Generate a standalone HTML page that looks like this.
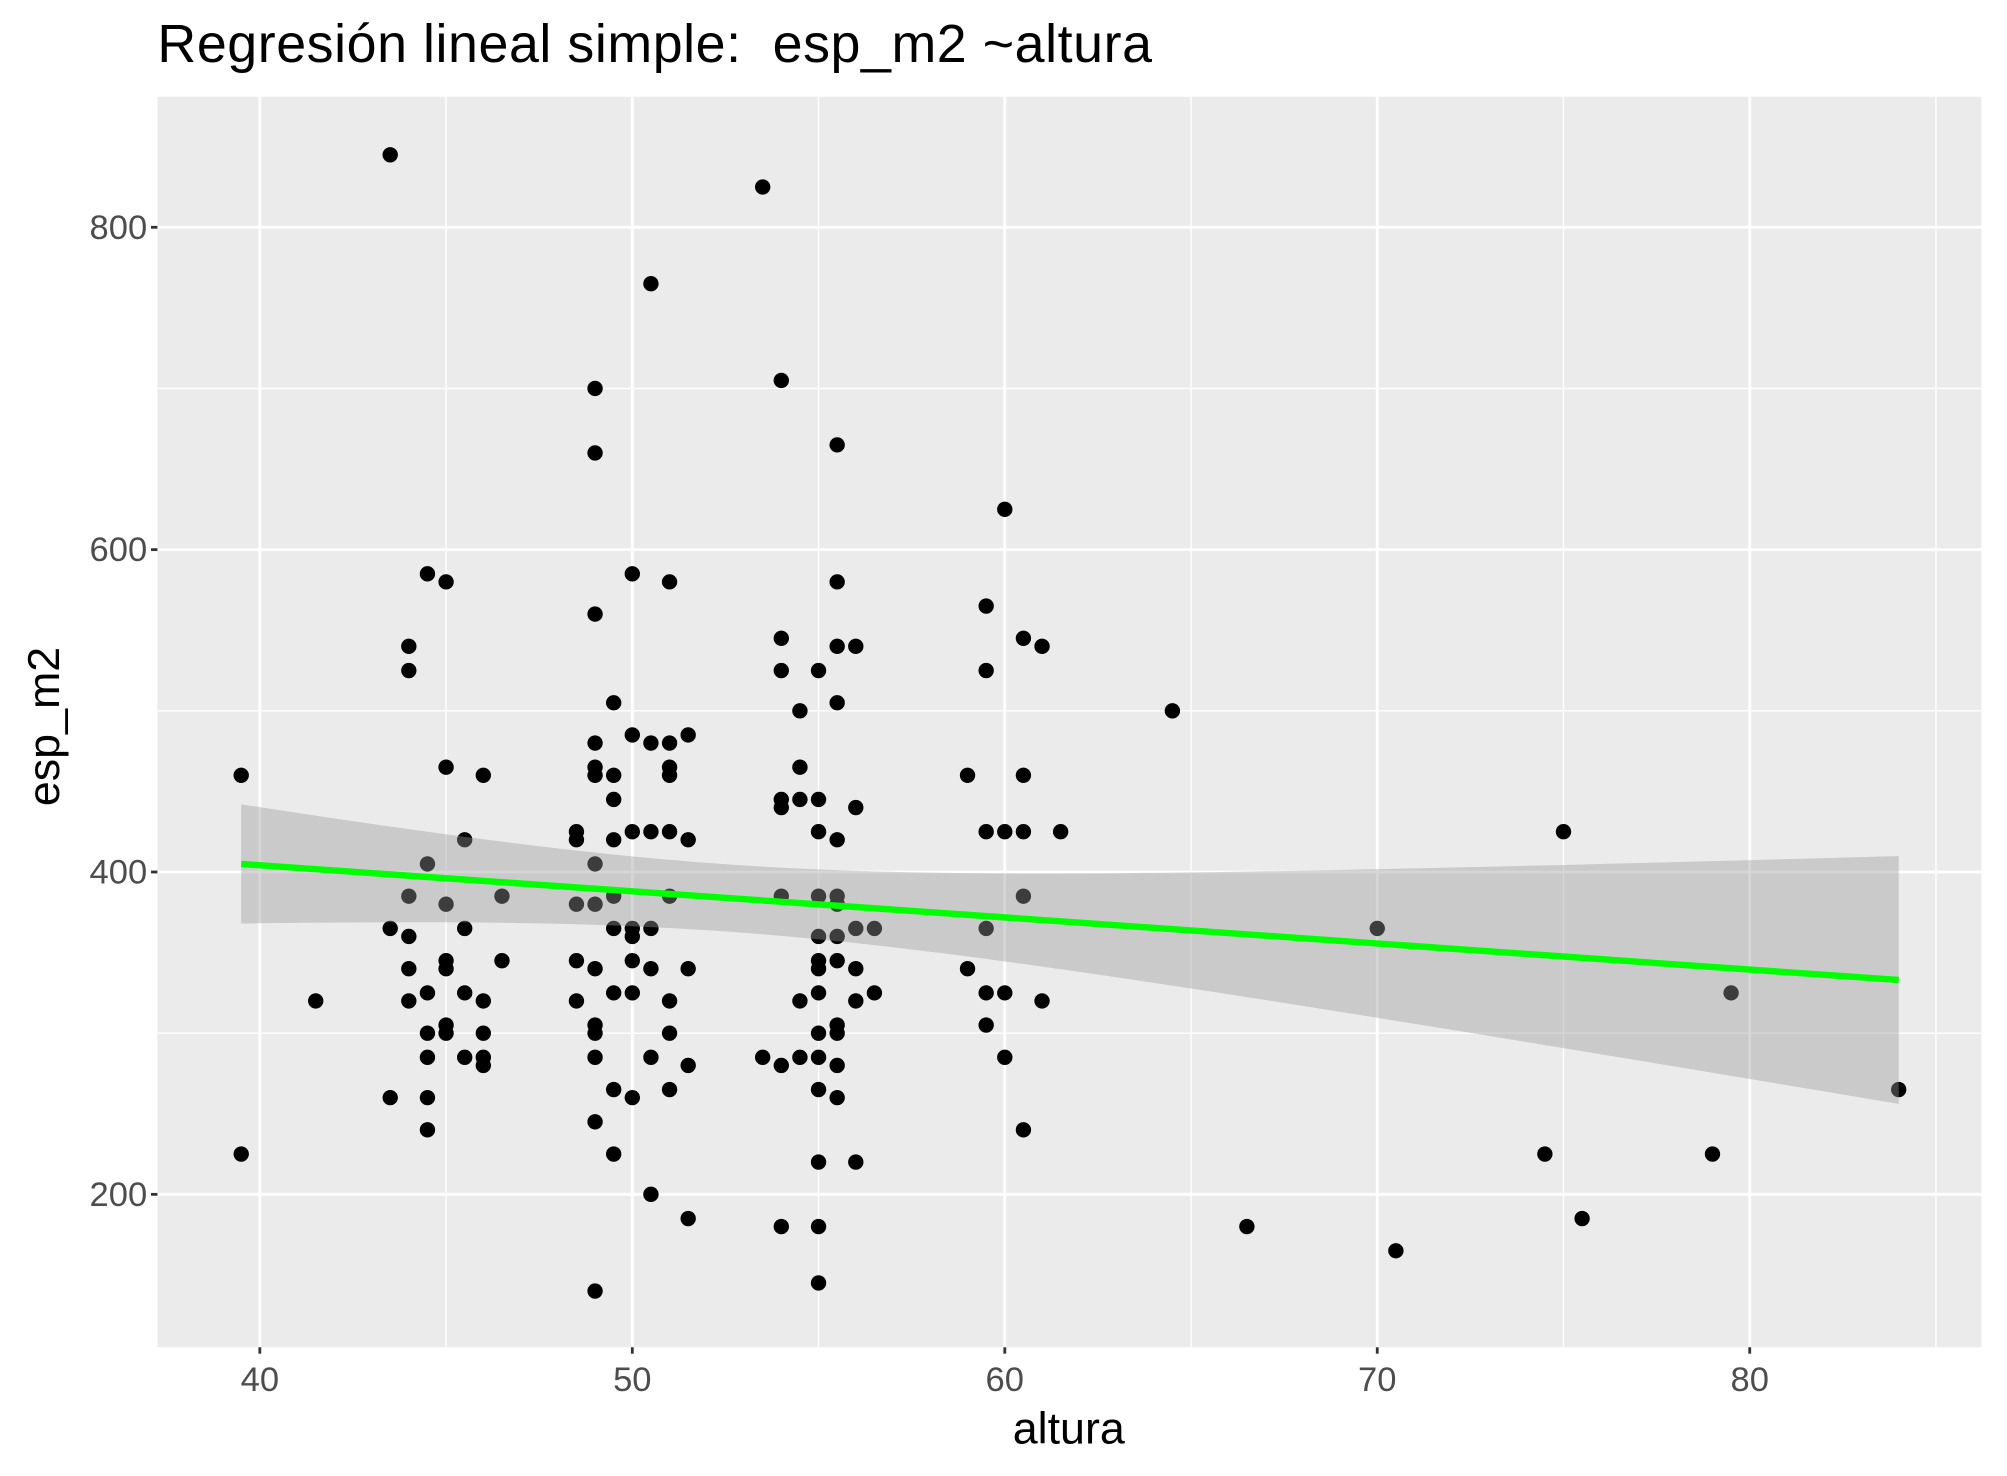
<!DOCTYPE html>
<html><head><meta charset="utf-8"><style>
html,body{margin:0;padding:0;background:#fff}
svg{display:block;font-family:"Liberation Sans",Arial,sans-serif}
</style></head><body>
<svg id="chart" width="2007" height="1476" viewBox="0 0 1568 1152" xmlns="http://www.w3.org/2000/svg">
<rect width="1568" height="1152" fill="#fff"/>
<rect x="123" y="75" width="1425" height="977" fill="#ebebeb"/>
<g id="grid"></g>
<g id="band"></g>
<g id="fit"></g>
<g id="points"></g>
<g id="axes"></g>
<text x="123" y="48" font-size="42" textLength="777" fill="#000">Regresión lineal simple:&#160; esp_m2 ~altura</text>
<text x="835" y="1127" font-size="35" text-anchor="middle" fill="#000">altura</text>
<text transform="translate(46,567) rotate(-90)" font-size="35" text-anchor="middle" fill="#000">esp_m2</text>
</svg>
<script>
const xVals=[39.5,39.5,41.5,43.5,43.5,43.5,44,44,44,44,44,44,44.5,44.5,44.5,44.5,44.5,44.5,44.5,45,45,45,45,45,45,45,45.5,45.5,45.5,45.5,46,46,46,46,46,46.5,46.5,
48.5,48.5,48.5,48.5,48.5,49,49,49,49,49,49,49,49,49,49,49,49,49,49,49.5,49.5,49.5,49.5,49.5,49.5,49.5,49.5,49.5,50,50,50,50,50,50,50,50,50.5,50.5,50.5,50.5,50.5,50.5,50.5,51,51,51,51,51,51,51,51,51,51.5,51.5,51.5,51.5,51.5,
53.5,53.5,54,54,54,54,54,54,54,54,54.5,54.5,54.5,54.5,54.5,55,55,55,55,55,55,55,55,55,55,55,55,55,55,55.5,55.5,55.5,55.5,55.5,55.5,55.5,55.5,55.5,55.5,55.5,55.5,55.5,56,56,56,56,56,56,56.5,56.5,
59,59,59.5,59.5,59.5,59.5,59.5,59.5,60,60,60,60,60.5,60.5,60.5,60.5,60.5,61,61,61.5,64.5,66.5,70,70.5,74.5,75,75.5,79,79.5,84];
const yVals=[460,225,320,845,365,260,540,525,385,360,340,320,585,405,325,300,285,260,240,580,465,380,345,340,305,300,420,365,325,285,460,320,300,285,280,385,345,
425,420,380,345,320,700,660,560,480,465,460,405,380,340,305,300,285,245,140,505,460,445,420,385,365,325,265,225,585,485,425,365,360,345,325,260,765,480,425,365,340,285,200,580,480,465,460,425,385,320,300,265,485,420,340,280,185,
825,285,705,545,525,445,440,385,280,180,500,465,445,320,285,525,445,425,385,360,345,340,325,300,285,265,220,180,145,665,580,540,505,420,385,380,360,345,305,300,280,260,540,440,365,340,320,220,365,325,
460,340,565,525,425,365,325,305,625,425,325,285,545,460,425,385,240,540,320,425,500,180,365,165,225,425,185,225,325,265];
const fitCoef=[468.9,-1.618];
const fitRange=[39.5,84];
const ciCoef=[435,5.52,52.5];
const xTicks=[40,50,60,70,80];
const xMinor=[45,55,65,75,85];
const yTicks=[200,400,600,800];
const yMinor=[300,500,700];

const NS="http://www.w3.org/2000/svg";
const X0=123,X1=1548,Y0=75,Y1=1052;
const sx=v=>203+(v-40)*29.1;
const sy=v=>177+(800-v)*1.2592;
function mk(tag,attrs,parent){const e=document.createElementNS(NS,tag);for(const k in attrs)e.setAttribute(k,attrs[k]);parent.appendChild(e);return e;}
const grid=document.getElementById('grid'),axes=document.getElementById('axes');
xMinor.forEach(v=>{const l=mk('line',{x1:sx(v),x2:sx(v),y1:Y0,y2:Y1,stroke:'#fff','stroke-width':1.1},grid);

});
yMinor.forEach(v=>{const l=mk('line',{x1:X0,x2:X1,y1:sy(v),y2:sy(v),stroke:'#fff','stroke-width':1.1},grid);

});
xTicks.forEach(v=>{const l=mk('line',{x1:sx(v),x2:sx(v),y1:Y0,y2:Y1,stroke:'#fff','stroke-width':2.2},grid);


const t=mk('line',{x1:sx(v),x2:sx(v),y1:Y1,y2:Y1+5,stroke:'#333','stroke-width':2.2},axes);


const tx=mk('text',{x:sx(v),y:1086,'font-size':27,'text-anchor':'middle',fill:'#4d4d4d'},axes);tx.textContent=v;

});
yTicks.forEach(v=>{const l=mk('line',{x1:X0,x2:X1,y1:sy(v),y2:sy(v),stroke:'#fff','stroke-width':2.2},grid);


const t=mk('line',{x1:X0-5,x2:X0,y1:sy(v),y2:sy(v),stroke:'#333','stroke-width':2.2},axes);


const tx=mk('text',{x:X0-8,y:sy(v)+9,'font-size':27,'text-anchor':'end',fill:'#4d4d4d'},axes);tx.textContent=v;

});
const fit=x=>fitCoef[0]+fitCoef[1]*x;
const hw=x=>Math.sqrt(ciCoef[0]+ciCoef[1]*(x-ciCoef[2])*(x-ciCoef[2]));
let up=[],lo=[];
for(let i=0;i<=80;i++){const x=fitRange[0]+(fitRange[1]-fitRange[0])*i/80;up.push(sx(x)+','+sy(fit(x)+hw(x)));lo.unshift(sx(x)+','+sy(fit(x)-hw(x)));}
const band=mk('polygon',{points:up.concat(lo).join(' '),fill:'#999','fill-opacity':0.4},document.getElementById('band'));


const pts=document.getElementById('points');
xVals.forEach((x,i)=>{const c=mk('circle',{cx:sx(x),cy:sy(yVals[i]),r:6,fill:'#000'},pts);

});
const ln=mk('line',{x1:sx(fitRange[0]),y1:sy(fit(fitRange[0])),x2:sx(fitRange[1]),y2:sy(fit(fitRange[1])),stroke:'#00ff00','stroke-width':5},document.getElementById('fit'));


document.getElementById('chart').insertBefore(document.getElementById('points'),document.getElementById('band'));
</script>
</body></html>
